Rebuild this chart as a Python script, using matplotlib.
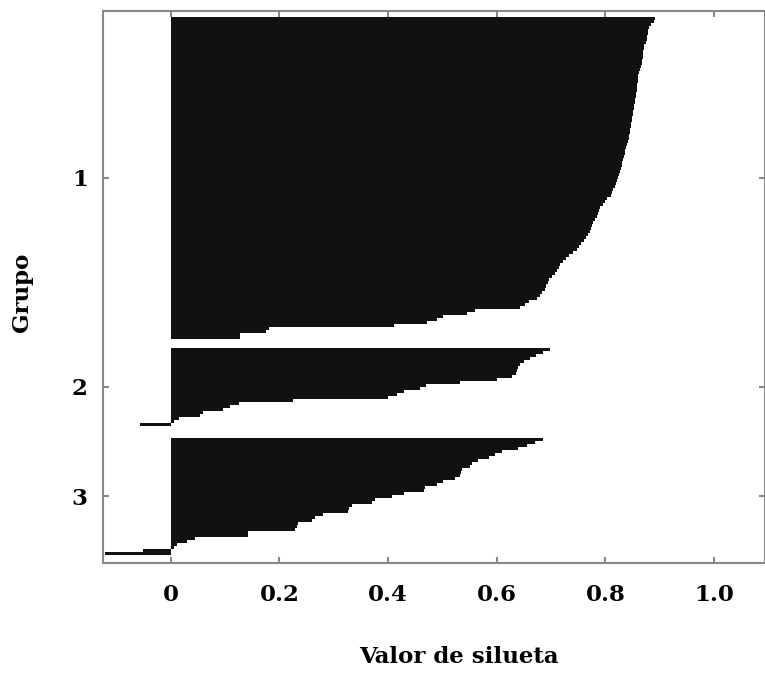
import matplotlib
matplotlib.use("Agg")
import matplotlib.pyplot as plt
import numpy as np

# Silhouette values per group (sorted descending, as in the reference)
grupo1 = [0.891, 0.889, 0.884,
          0.880, 0.879, 0.878, 0.877, 0.876, 0.874,
          0.872, 0.871, 0.870, 0.870, 0.869, 0.868, 0.867, 0.866, 0.864,
          0.862, 0.861, 0.860, 0.860, 0.859, 0.858, 0.858, 0.857, 0.856, 0.855, 0.854, 0.853,
          0.852, 0.851, 0.851, 0.850, 0.849, 0.848, 0.847,
          0.846, 0.845, 0.844, 0.843, 0.842,
          0.840, 0.838, 0.837, 0.836, 0.834, 0.833,
          0.831, 0.830, 0.828, 0.827, 0.826, 0.824, 0.822,
          0.819, 0.817, 0.815, 0.813, 0.810,
          0.803, 0.799, 0.795, 0.791,
          0.788, 0.786, 0.784, 0.781, 0.778,
          0.775, 0.773, 0.771, 0.768, 0.764, 0.760,
          0.756, 0.752, 0.748,
          0.740, 0.733, 0.728, 0.722,
          0.717, 0.714, 0.711, 0.707, 0.702,
          0.697, 0.694, 0.691, 0.688,
          0.683, 0.679, 0.674,
          0.660, 0.652,
          0.643,
          0.560, 0.545, 0.501, 0.490, 0.471, 0.410, 0.180, 0.176, 0.127, 0.127]
grupo2 = [0.698, 0.685, 0.672, 0.662, 0.650, 0.643, 0.640, 0.637, 0.635, 0.628,
          0.600, 0.532, 0.470, 0.459, 0.430, 0.416, 0.400, 0.225, 0.125, 0.109,
          0.096, 0.060, 0.053, 0.015, 0.005, -0.057]
grupo3 = [0.685, 0.670, 0.655, 0.640, 0.610, 0.597, 0.585, 0.566, 0.554, 0.550,
          0.536, 0.534, 0.532, 0.523, 0.501, 0.490, 0.468, 0.466, 0.430, 0.407,
          0.376, 0.370, 0.333, 0.328, 0.326, 0.280, 0.265, 0.260, 0.234, 0.232,
          0.228, 0.142, 0.142, 0.044, 0.030, 0.012, 0.005, -0.052, -0.122]
grupos = [grupo1, grupo2, grupo3]
group_labels = ["1", "2", "3"]
x_ticks = [0, 0.2, 0.4, 0.6, 0.8, 1.0]
x_ticklabels = ["0", "0.2", "0.4", "0.6", "0.8", "1.0"]

gaps = [0, 3, 4]  # empty rows before each group

W, H = 765, 682
fig = plt.figure(figsize=(W / 100, H / 100), dpi=100)
fig.patch.set_facecolor("white")
left_px, right_px, top_px, bot_px = 103, 765, 11, 563
ax = fig.add_axes([left_px / W, 1 - bot_px / H, (right_px - left_px) / W, (bot_px - top_px) / H])

font = dict(family="DejaVu Serif", weight="bold", size=16.5)

pos = 0
centers = []
for g, vals in zip(gaps, grupos):
    pos += g
    y = pos + np.arange(len(vals)) + 0.5
    ax.barh(y, vals, height=1.0, color="#111111", linewidth=0, antialiased=False)
    centers.append(pos + len(vals) / 2)
    pos += len(vals)

ax.set_xlim(-0.125, 1.094)
ax.set_ylim(pos + 8 / 3, -2)
ax.set_xticks(x_ticks)
ax.set_xticklabels(x_ticklabels, fontdict=font)
ax.set_yticks(centers)
ax.set_yticklabels(group_labels, fontdict=font)
ax.tick_params(axis="both", direction="in", length=4, width=1.5, color="#888888",
               top=True, right=True, labelcolor="black")
ax.tick_params(axis="x", pad=15)
ax.tick_params(axis="y", pad=11)
for s in ax.spines.values():
    s.set_color("#888888")
    s.set_linewidth(1.5)

fig.text(459 / W, 1 - 657 / H, "Valor de silueta", ha="center", va="center", **font)
fig.text(22 / W, 1 - 292 / H, "Grupo", ha="center", va="center", rotation=90, **font)

fig.savefig("out.png", dpi=100, facecolor="white")
